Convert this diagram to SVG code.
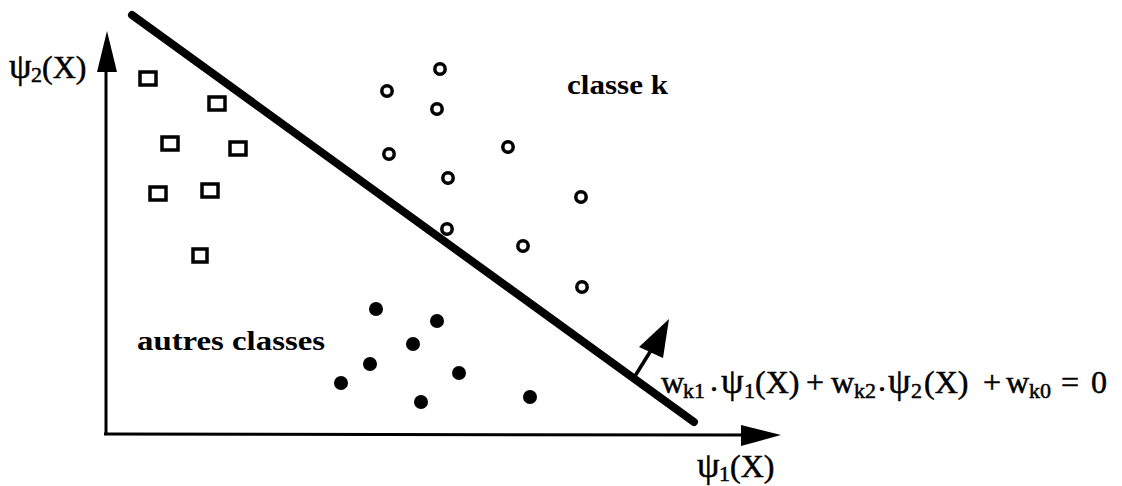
<svg xmlns="http://www.w3.org/2000/svg" width="1122" height="486" viewBox="0 0 1122 486">
<style>
.ax{stroke:#000;stroke-width:3;fill:none}
.sq{fill:none;stroke:#000;stroke-width:3.5}
.ci{fill:none;stroke:#000;stroke-width:3.5}
.dot{fill:#000}
.t{font-family:"Liberation Serif","Times New Roman",serif;fill:#000}
.b{font-weight:bold;font-size:28px}
.m{font-size:32px;stroke:#000;stroke-width:0.5}
.p{font-size:36px}
.s{font-size:22px}
</style>
<rect width="1122" height="486" fill="#fff"/>
<g id="connectors">
<line class="ax" x1="106" y1="434" x2="106" y2="60"/>
<polygon points="107,31 97,72 117,72" fill="#000"/>
<line class="ax" x1="104" y1="434" x2="750" y2="435"/>
<polygon points="781,435 741,425 741,446" fill="#000"/>
<line x1="132" y1="15" x2="694" y2="422" stroke="#000" stroke-width="8" stroke-linecap="round"/>
<line x1="635" y1="376" x2="655" y2="344" stroke="#000" stroke-width="3.5"/>
<polygon points="669,319 639,347 663,358" fill="#000"/>
</g>
<g id="squares">
<rect class="sq" x="140" y="72" width="16" height="13"/>
<rect class="sq" x="209" y="97" width="16" height="13"/>
<rect class="sq" x="162" y="137" width="16" height="13"/>
<rect class="sq" x="230" y="142" width="16" height="13"/>
<rect class="sq" x="150" y="187" width="16" height="13"/>
<rect class="sq" x="202" y="184" width="16" height="13"/>
<rect class="sq" x="193" y="249" width="14" height="13"/>
</g>
<g id="circles">
<circle class="ci" cx="440" cy="69" r="5.2"/>
<circle class="ci" cx="387" cy="91" r="5.2"/>
<circle class="ci" cx="437" cy="109" r="5.2"/>
<circle class="ci" cx="389" cy="154" r="5.2"/>
<circle class="ci" cx="508" cy="147" r="5.2"/>
<circle class="ci" cx="448" cy="178" r="5.2"/>
<circle class="ci" cx="581" cy="197" r="5.2"/>
<circle class="ci" cx="447" cy="229" r="5.2"/>
<circle class="ci" cx="523" cy="246" r="5.2"/>
<circle class="ci" cx="582" cy="287" r="5.2"/>
</g>
<g id="dots">
<circle class="dot" cx="376" cy="309" r="7"/>
<circle class="dot" cx="437" cy="321" r="7"/>
<circle class="dot" cx="413" cy="344" r="7"/>
<circle class="dot" cx="370" cy="364" r="7"/>
<circle class="dot" cx="459" cy="373" r="7"/>
<circle class="dot" cx="341" cy="383" r="7"/>
<circle class="dot" cx="421" cy="402" r="7"/>
<circle class="dot" cx="530" cy="397" r="7"/>
</g>
<g id="label-psi2">
<text class="t m" y="78"><tspan class="p" x="9">ψ</tspan><tspan class="s" x="31" y="82">2</tspan><tspan x="42" y="78">(X)</tspan></text>
</g>
<g id="label-psi1">
<text class="t m" y="477"><tspan class="p" x="697">ψ</tspan><tspan class="s" x="719" y="481">1</tspan><tspan x="730" y="477">(X)</tspan></text>
</g>
<g id="label-classe-k">
<text class="t b" x="567" y="94" textLength="101" lengthAdjust="spacingAndGlyphs">classe k</text>
</g>
<g id="label-autres">
<text class="t b" x="137" y="350" textLength="188" lengthAdjust="spacingAndGlyphs">autres classes</text>
</g>
<g id="equation">
<text class="t m" y="393"><tspan x="661">w</tspan><tspan class="s" x="683" y="398">k1</tspan><tspan x="710" y="391">.</tspan><tspan class="p" x="721" y="393">ψ</tspan><tspan class="s" x="744" y="398">1</tspan><tspan x="755" y="393">(X)</tspan><tspan x="806">+</tspan><tspan x="831">w</tspan><tspan class="s" x="854" y="398">k2</tspan><tspan x="878" y="391">.</tspan><tspan class="p" x="888" y="393">ψ</tspan><tspan class="s" x="911" y="398">2</tspan><tspan x="924" y="393">(X)</tspan><tspan x="983">+</tspan><tspan x="1006">w</tspan><tspan class="s" x="1029" y="398">k0</tspan><tspan x="1061" y="393">=</tspan><tspan x="1091">0</tspan></text>
</g>
</svg>
